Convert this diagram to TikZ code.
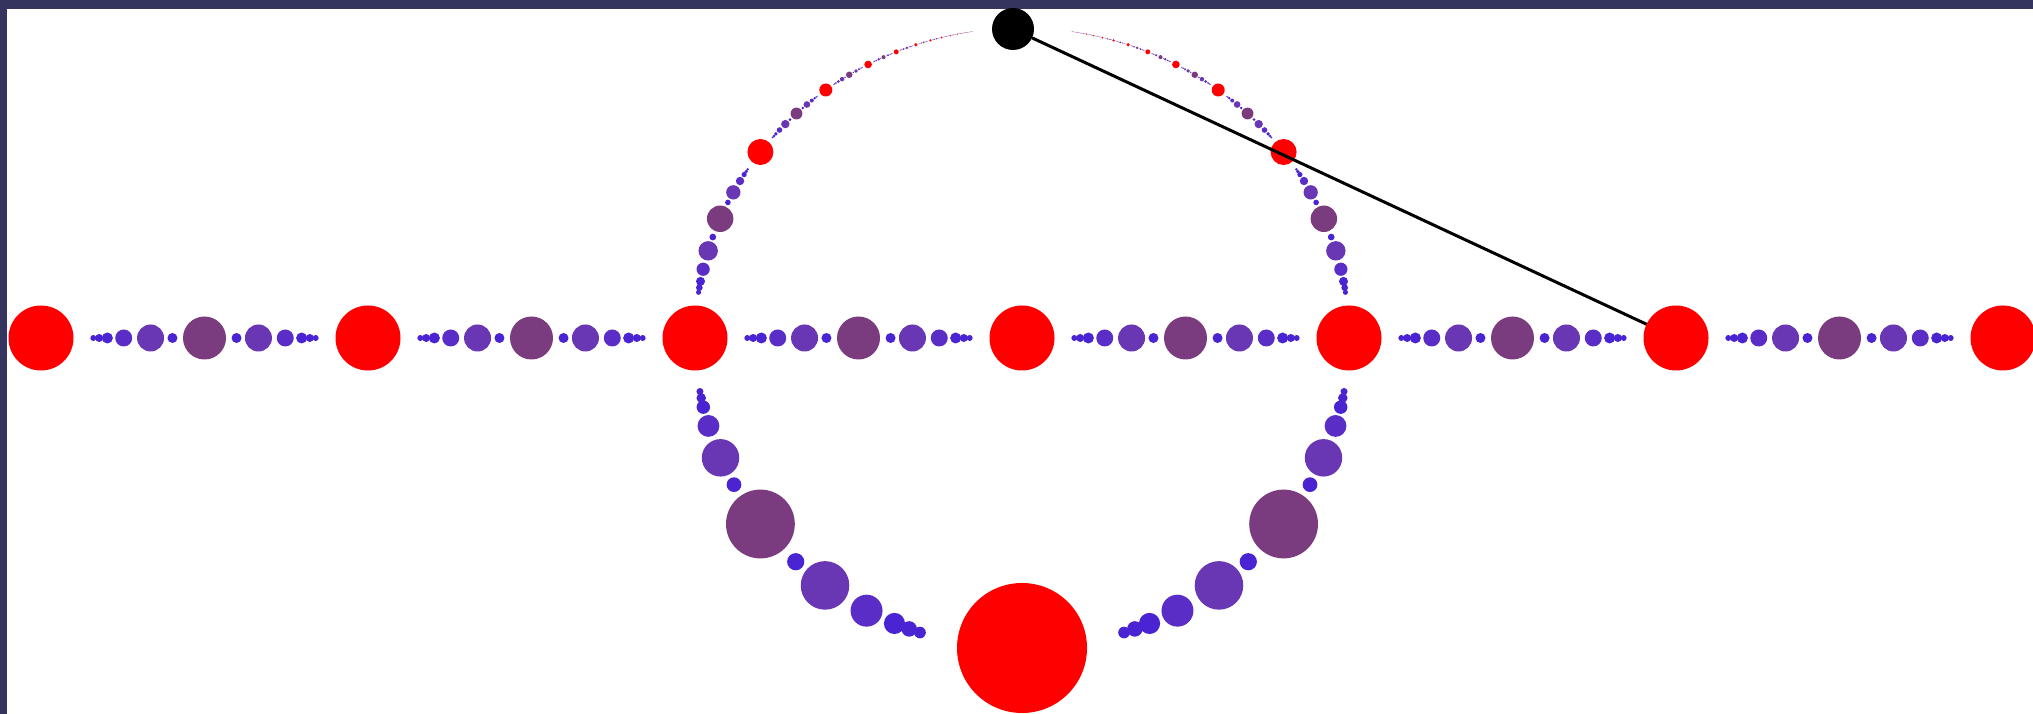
\documentclass[tikz,border=0pt]{standalone}
\usepackage{xcolor}
\usepackage{tikz}
\usetikzlibrary{positioning}
\definecolor{sgframe}{HTML}{35345F}
\definecolor{sgred}{HTML}{FF0000}
\definecolor{sgmauve}{HTML}{7B3B7F}
\definecolor{sgpurple}{HTML}{6936B4}
\definecolor{sgviolet}{HTML}{5A2EC6}
\definecolor{sgblue}{HTML}{4A24D2}
\newcommand{\sgchain}{0/21.5/sgmauve,-0.098/5/sgblue,0.098/5/sgblue,-0.165/13.5/sgpurple,0.165/13.5/sgpurple,-0.247/8.5/sgviolet,0.247/8.5/sgviolet,-0.297/5.5/sgblue,0.297/5.5/sgblue,-0.322/4/sgblue,0.322/4/sgblue,-0.340/3/sgblue,0.340/3/sgblue}

\begin{document}
\begin{tikzpicture}[x=1pt,y=1pt,
  bead/.style={circle,inner sep=0pt,outer sep=0pt,draw=none,fill=#1},
  pole/.style={circle,inner sep=0pt,outer sep=0pt,fill=black,minimum size=42pt}]
\def\cx{1022}\def\cy{376}\def\Rx{327}\def\Ry{310}
\fill[sgframe] (0,0) rectangle (2033,714);
\fill[white] (7,0) rectangle (2033,705);
\useasboundingbox (0,0) rectangle (2033,714);
\foreach \k in {-3,...,3}
  \node[bead=sgred,minimum size=65] (lr\k) at ({\cx+(\k)*\Rx},\cy) {};
\foreach \k in {-3,...,2}
  \foreach \o/\r/\c [count=\i] in \sgchain
    \node[bead=\c,minimum size={2*\r}] (lb\k-\i) at ({\cx+(\k+0.5+(\o))*\Rx},\cy) {};
\foreach \k in {-13,...,-2,0,2,3,...,13} {
  \pgfmathsetmacro\q{(\k)*(\k)+1}
  \pgfmathsetmacro\px{2*\Rx*((\k)/\q)}
  \pgfmathsetmacro\py{\Ry*(((\k)*(\k)-1)/\q)}
  \node[bead=sgred,minimum size={130/\q}] (cr\k) at ({\cx+\px},{\cy+\py}) {};
}
\foreach \k in {-13,...,12}
  \foreach \o/\r/\c [count=\i] in \sgchain {
    \pgfmathsetmacro\u{\k+0.5+(\o)}
    \pgfmathsetmacro\q{(\u)*(\u)+1}
    \pgfmathsetmacro\px{2*\Rx*((\u)/\q)}
    \pgfmathsetmacro\py{\Ry*(((\u)*(\u)-1)/\q)}
    \node[bead=\c,minimum size={4*\r/\q}] (cb\k-\i) at ({\cx+\px},{\cy+\py}) {};
  }
\node[pole] (pole) at (1013,685) {};
\draw[line width=3pt] (pole) -- (lr2);
\end{tikzpicture}
\end{document}
